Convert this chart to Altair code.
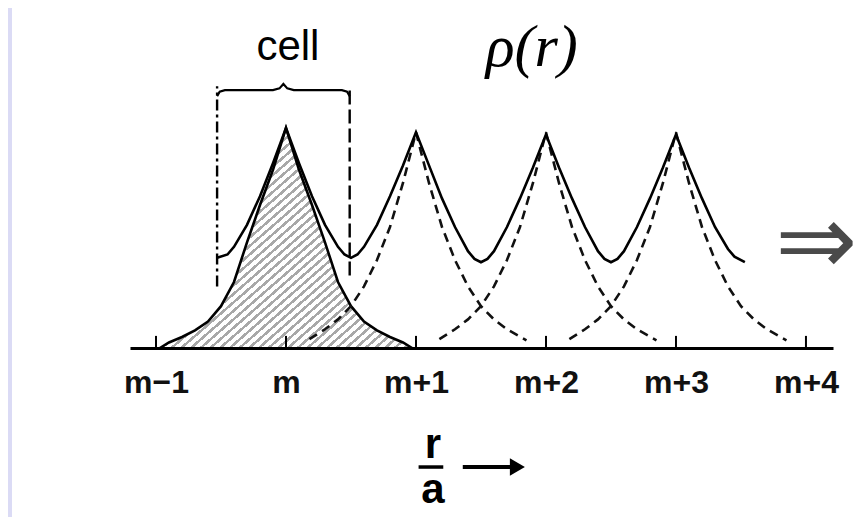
import altair as alt
import pandas as pd

# ---------------- data (x in units of a, site m = 0) -------------
site_pos = [-1, 0, 1, 2, 3, 4]
site_labels = ["m\u22121", "m", "m+1", "m+2", "m+3", "m+4"]

# shaded single-site density of site m
cell_dist = [-0.97, -0.9, -0.8, -0.7, -0.6, -0.5, -0.4, -0.3, -0.2, -0.1, 0.0,
             0.1, 0.2, 0.3, 0.4, 0.5, 0.6, 0.7, 0.8, 0.9, 0.97]
cell_rho = [0.0, 0.025, 0.05, 0.08, 0.12, 0.19, 0.30, 0.48, 0.65, 0.81, 1.0,
            0.81, 0.65, 0.48, 0.30, 0.19, 0.12, 0.08, 0.05, 0.025, 0.0]

# dashed single-site densities of sites m+1 .. m+3
dashed_sites = [1, 2, 3]
dashed_dist = [-0.82, -0.7, -0.6, -0.5, -0.4, -0.3, -0.2, -0.1, 0.0,
               0.1, 0.2, 0.3, 0.4, 0.5, 0.6, 0.7, 0.85]
dashed_rho = [0.04, 0.085, 0.13, 0.19, 0.28, 0.40, 0.55, 0.75, 0.98,
              0.75, 0.55, 0.40, 0.28, 0.19, 0.13, 0.085, 0.035]

# total density rho(r) (solid curve)
sum_x = [-0.53, -0.45, -0.4, -0.3, -0.2, -0.1, 0.0, 0.1, 0.2, 0.3, 0.4, 0.45, 0.5, 0.55, 0.6, 0.7, 0.8, 0.9,
         1.0, 1.1, 1.2, 1.3, 1.4, 1.45, 1.5, 1.55, 1.6, 1.7, 1.8, 1.9,
         2.0, 2.1, 2.2, 2.3, 2.4, 2.45, 2.5, 2.55, 2.6, 2.7, 2.8, 2.9,
         3.0, 3.1, 3.2, 3.3, 3.4, 3.45, 3.53]
sum_y = [0.41, 0.425, 0.46, 0.56, 0.69, 0.84, 1.0, 0.84, 0.69, 0.56, 0.46, 0.425, 0.41, 0.425, 0.46, 0.56, 0.69, 0.83,
         0.98, 0.83, 0.68, 0.55, 0.44, 0.405, 0.39, 0.405, 0.44, 0.55, 0.68, 0.82,
         0.97, 0.82, 0.68, 0.55, 0.44, 0.405, 0.39, 0.405, 0.44, 0.55, 0.68, 0.82,
         0.97, 0.82, 0.68, 0.55, 0.45, 0.415, 0.39]

# cell boundaries and brace
cell_left, cell_right = -0.53, 0.49
cell_left_bottom, cell_right_bottom, cell_top = 0.28, 0.33, 1.19
brace_x = [-0.53, -0.51, -0.47, -0.10, -0.05, -0.02, 0.01, 0.06, 0.43, 0.47, 0.49]
brace_y = [1.145, 1.165, 1.172, 1.172, 1.18, 1.20, 1.18, 1.172, 1.172, 1.165, 1.145]

# ---------------- layout ----------------
W, H = 703, 332
PAD = {"left": 122, "top": 8, "right": 27, "bottom": 169}
XDOM = [-1.2, 4.208]
YDOM = [0, 1.509]
SANS = "Liberation Sans, Arial, Helvetica, sans-serif"
SERIF = "Liberation Serif, Times New Roman, serif"

x_axis = alt.Axis(values=site_pos,
                  labelExpr=f"{site_labels}[indexof({site_pos}, datum.value)]",
                  title=None, grid=False, ticks=False, tickSize=0,
                  domainColor="black", domainWidth=3,
                  labelFont=SANS, labelFontSize=32, labelFontWeight="bold",
                  labelColor="#111111", labelPadding=19, labelFlush=False,
                  labelOverlap=False, zindex=1)


def X(field="x"):
    return alt.X(f"{field}:Q", scale=alt.Scale(domain=XDOM, nice=False, zero=False), axis=x_axis)


def Y(field="y"):
    return alt.Y(f"{field}:Q", scale=alt.Scale(domain=YDOM, nice=False, zero=False), axis=None)


# ---------------- tables ----------------
cell_df = pd.DataFrame({"x": cell_dist, "y": cell_rho, "y0": [0.0] * len(cell_dist)})
dashed_df = pd.DataFrame([
    {"site": s, "x": s + d, "y": r}
    for s in dashed_sites for d, r in zip(dashed_dist, dashed_rho)
])
sum_df = pd.DataFrame({"x": sum_x, "y": sum_y})
brace_df = pd.DataFrame({"x": brace_x, "y": brace_y})
left_df = pd.DataFrame({"x": [cell_left], "y": [cell_left_bottom], "y2": [cell_top]})
right_df = pd.DataFrame({"x": [cell_right], "y": [cell_right_bottom], "y2": [cell_top]})
tick_df = pd.DataFrame({"x": site_pos, "y": [0.0] * 6, "y2": [0.055] * 6})
one = pd.DataFrame({"k": [0]})

# hatch texture for the shaded density
n_stripes = 52
stops = []
for i in range(n_stripes):
    a = i / n_stripes
    b = a + 0.4 / n_stripes
    stops += [{"offset": a, "color": "white"}, {"offset": a, "color": "#a8a8a8"},
              {"offset": b, "color": "#a8a8a8"}, {"offset": b, "color": "white"}]
hatch = {"gradient": "linear", "x1": 0, "y1": 0, "x2": 1, "y2": 1, "stops": stops}

# ---------------- layers ----------------
panel = alt.Chart(one).mark_rect(color="white").encode(
    x=alt.value(-(PAD["left"] - 4)), x2=alt.value(W + PAD["right"]),
    y=alt.value(-PAD["top"]), y2=alt.value(H + PAD["bottom"]))

shade = alt.Chart(cell_df).mark_area(fill=hatch, interpolate="linear").encode(
    x=X(), y=Y(), y2=alt.Y2("y0:Q"))
shade_line = alt.Chart(cell_df).mark_line(color="black", strokeWidth=2.6).encode(x=X(), y=Y())

dashed = alt.Chart(dashed_df).mark_line(color="#111111", strokeWidth=2.6, strokeDash=[9, 6]).encode(
    x=X(), y=Y(), detail="site:N")

total = alt.Chart(sum_df).mark_line(color="black", strokeWidth=2.6).encode(x=X(), y=Y())

left_line = alt.Chart(left_df).mark_rule(color="black", strokeWidth=2.4, strokeDash=[11, 4, 3, 4]).encode(
    x=X(), y=Y(), y2=alt.Y2("y2:Q"))
right_line = alt.Chart(right_df).mark_rule(color="black", strokeWidth=2.4, strokeDash=[14, 5]).encode(
    x=X(), y=Y(), y2=alt.Y2("y2:Q"))
brace = alt.Chart(brace_df).mark_line(color="black", strokeWidth=2.2).encode(x=X(), y=Y())

ticks = alt.Chart(tick_df).mark_rule(color="black", strokeWidth=2).encode(
    x=X(), y=Y(), y2=alt.Y2("y2:Q"))


def label(txt, x, y, font, size, weight="normal", style="normal", baseline="alphabetic", color="black"):
    return alt.Chart(pd.DataFrame({"x": [x], "y": [y], "t": [txt]})).mark_text(
        font=font, fontSize=size, fontWeight=weight, fontStyle=style,
        baseline=baseline, align="center", color=color).encode(x=X(), y=Y(), text="t:N")


cell_txt = label("cell", 0.015, 1.31, SANS, 42)
rho_txt = label("\u03c1(r)", 1.89, 1.28, SERIF, 60, style="italic")
arrow_txt = label("\u21d2", 4.08, 0.47, "DejaVu Sans, Liberation Sans, sans-serif", 98,
                  baseline="middle", color="#4a4a4a")
r_txt = label("r", 1.13, -0.50, SANS, 42, weight="bold")
a_txt = label("a", 1.13, -0.705, SANS, 42, weight="bold")

bar_df = pd.DataFrame({"x": [1.02], "x2": [1.21], "y": [-0.541]})
bar = alt.Chart(bar_df).mark_rule(color="black", strokeWidth=3.5).encode(
    x=X(), x2=alt.X2("x2:Q"), y=Y())
shaft_df = pd.DataFrame({"x": [1.36], "x2": [1.78], "y": [-0.541]})
shaft = alt.Chart(shaft_df).mark_rule(color="black", strokeWidth=4).encode(
    x=X(), x2=alt.X2("x2:Q"), y=Y())
head_df = pd.DataFrame({"x": [1.78], "y": [-0.541]})
head = alt.Chart(head_df).mark_point(shape="triangle-right", filled=True, color="black",
                                     size=300, opacity=1).encode(x=X(), y=Y())

chart = alt.layer(
    panel, shade, shade_line, dashed, total, left_line, right_line, brace, ticks,
    cell_txt, rho_txt, arrow_txt, r_txt, a_txt, bar, shaft, head
).properties(
    width=W, height=H, padding=PAD, autosize=alt.AutoSizeParams(type="none"),
    background="#dbdbf5"
).configure_view(stroke=None)

chart.save("out.html", embed_options={"renderer": "svg", "actions": False})
